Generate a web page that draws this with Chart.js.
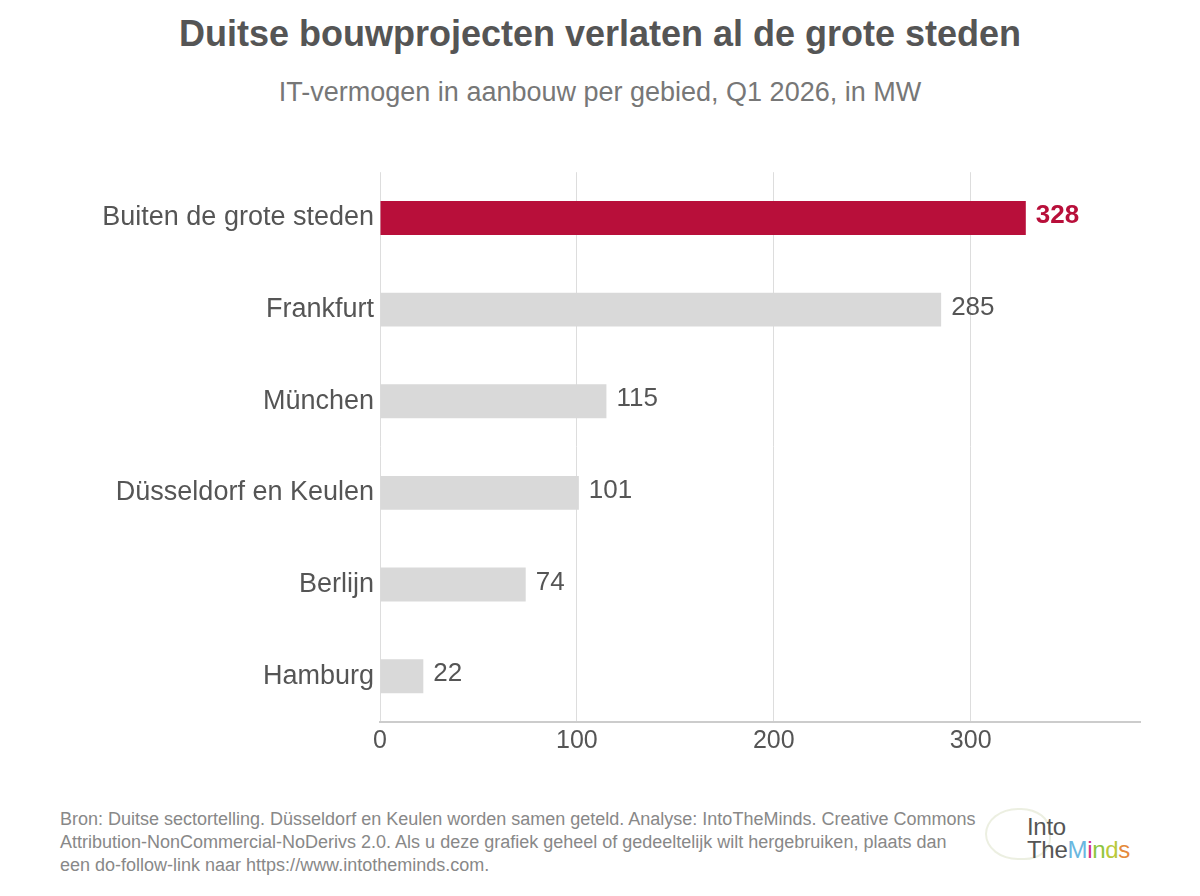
<!DOCTYPE html>
<html>
<head>
<meta charset="utf-8">
<script src="https://cdn.jsdelivr.net/npm/chart.js@4"></script>
<style>
  body { margin: 0; width: 1200px; height: 896px; background: #fff; font-family: "Liberation Sans", Arial, sans-serif; position: relative; overflow: hidden; }
  #title { position: absolute; top: 13px; left: 0; width: 1200px; text-align: center; font-size: 36px; font-weight: bold; color: #555; }
  #subtitle { position: absolute; top: 77px; left: 0; width: 1200px; text-align: center; font-size: 27px; color: #777; }
  #wrap { position: absolute; left: 0; top: 150px; width: 1200px; height: 620px; }
  #footer { position: absolute; left: 60px; top: 808px; font-size: 18px; line-height: 23px; color: #888; white-space: nowrap; }
  #logo { position: absolute; left: 1027px; top: 815px; font-size: 24px; line-height: 23px; color: #555; letter-spacing: -0.3px; }
  #brain { position: absolute; left: 985px; top: 808px; width: 62px; height: 48px; border-radius: 50% 45% 40% 50%; border: 2px solid rgba(200, 210, 170, 0.35); }
</style>
</head>
<body>
<div id="title">Duitse bouwprojecten verlaten al de grote steden</div>
<div id="subtitle">IT-vermogen in aanbouw per gebied, Q1 2026, in MW</div>
<div id="wrap"><canvas id="graphCanvas"></canvas></div>
<div id="footer">Bron: Duitse sectortelling. Düsseldorf en Keulen worden samen geteld. Analyse: IntoTheMinds. Creative Commons<br>Attribution-NonCommercial-NoDerivs 2.0. Als u deze grafiek geheel of gedeeltelijk wilt hergebruiken, plaats dan<br>een do-follow-link naar https://www.intotheminds.com.</div>
<div id="brain"></div>
<div id="logo"><div>Into</div><div>The<span style="color:#6ab7e0">M</span><span style="color:#d0318a">i</span><span style="color:#8bc540">n</span><span style="color:#b9c93a">d</span><span style="color:#e58a3b">s</span></div></div>
<script>
var regions = ['Buiten de grote steden', 'Frankfurt', 'München', 'Düsseldorf en Keulen', 'Berlijn', 'Hamburg'];
var capacity = [328, 285, 115, 101, 74, 22];
var xTicks = [0, 100, 200, 300];

var barColors = regions.map(function (r, i) { return i === 0 ? '#b80f3a' : '#d9d9d9'; });

var valueLabels = {
    id: 'valueLabels',
    afterDatasetsDraw: function (chart) {
        var ctx = chart.ctx;
        var meta = chart.getDatasetMeta(0);
        ctx.save();
        ctx.textBaseline = 'middle';
        ctx.textAlign = 'left';
        meta.data.forEach(function (bar, i) {
            if (i === 0) {
                ctx.font = 'bold 26px "Liberation Sans", Arial, sans-serif';
                ctx.fillStyle = '#b80f3a';
            } else {
                ctx.font = '26px "Liberation Sans", Arial, sans-serif';
                ctx.fillStyle = '#555';
            }
            ctx.fillText(String(capacity[i]), bar.x + 10, bar.y - 2);
        });
        ctx.restore();
    }
};

new Chart(document.getElementById('graphCanvas'), {
    type: 'bar',
    data: {
        labels: regions,
        datasets: [{
            data: capacity,
            backgroundColor: barColors,
            borderWidth: 0,
            barPercentage: 0.74,
            categoryPercentage: 0.5
        }]
    },
    options: {
        indexAxis: 'y',
        responsive: true,
        maintainAspectRatio: false,
        animation: false,
        layout: { padding: { top: 16, right: 60, left: 0, bottom: 0 } },
        plugins: { legend: { display: false }, tooltip: { enabled: false } },
        scales: {
            x: {
                min: 0,
                max: 386,
                afterBuildTicks: function (scale) {
                    scale.ticks = xTicks.map(function (v) { return { value: v }; });
                },
                afterFit: function (scale) { scale.height = 48; },
                grid: { color: '#dddddd', lineWidth: 1, drawTicks: false },
                border: { color: '#cccccc', width: 2 },
                ticks: {
                    padding: 4,
                    color: '#555',
                    font: { size: 25, family: '"Liberation Sans", Arial, sans-serif' }
                }
            },
            y: {
                afterFit: function (scale) { scale.width = 380; },
                grid: { display: false, drawTicks: false },
                border: { display: false },
                ticks: {
                    padding: 6,
                    color: '#555',
                    font: { size: 27, family: '"Liberation Sans", Arial, sans-serif' }
                }
            }
        }
    },
    plugins: [valueLabels]
});
</script>
</body>
</html>
